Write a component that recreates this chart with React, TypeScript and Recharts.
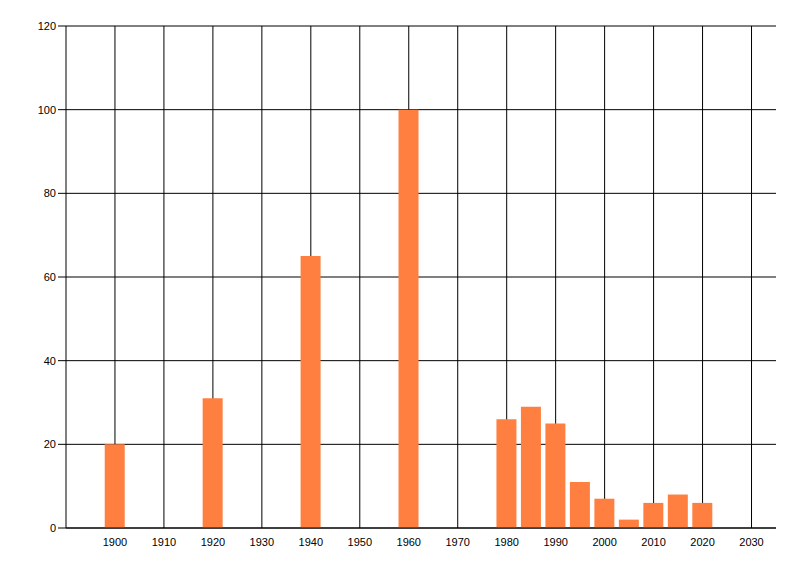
import { Bar, BarChart, CartesianGrid, XAxis, YAxis } from 'recharts'

const years = [1900, 1920, 1940, 1960, 1980, 1985, 1990, 1995, 2000, 2005, 2010, 2015, 2020]
const counts = [20, 31, 65, 100, 26, 29, 25, 11, 7, 2, 6, 8, 6]
const xTicks = [1900, 1910, 1920, 1930, 1940, 1950, 1960, 1970, 1980, 1990, 2000, 2010, 2020, 2030]
const yTicks = [0, 20, 40, 60, 80, 100, 120]

const data = years.map((year, i) => ({ year, count: counts[i] }))

const tickStyle = { fill: '#000', fontSize: 11, fontFamily: 'Liberation Sans, Arial, sans-serif' }

export default function App() {
  return (
    <div style={{ position: 'absolute', left: 0, top: 0, width: 800, height: 576, background: '#fff' }}>
      <BarChart width={800} height={576} data={data} margin={{ top: 26, right: 24, bottom: 0, left: 0 }}>
        {/* syncWithTicks keeps the grid to tick positions, no extra line at the right edge */}
        <CartesianGrid stroke="#000" strokeWidth={1} syncWithTicks />
        <XAxis
          dataKey="year"
          type="number"
          domain={[1890, 2035]}
          ticks={xTicks}
          allowDataOverflow
          height={48}
          tickLine={false}
          axisLine={{ stroke: '#000' }}
          tick={tickStyle}
          tickMargin={4}
        />
        <YAxis
          domain={[0, 120]}
          ticks={yTicks}
          width={66}
          tickSize={8}
          tickMargin={2}
          tickLine={{ stroke: '#000' }}
          axisLine={{ stroke: '#000' }}
          tick={tickStyle}
        />
        <Bar dataKey="count" fill="#FF7F40" barSize={20} isAnimationActive={false} />
      </BarChart>
    </div>
  )
}
